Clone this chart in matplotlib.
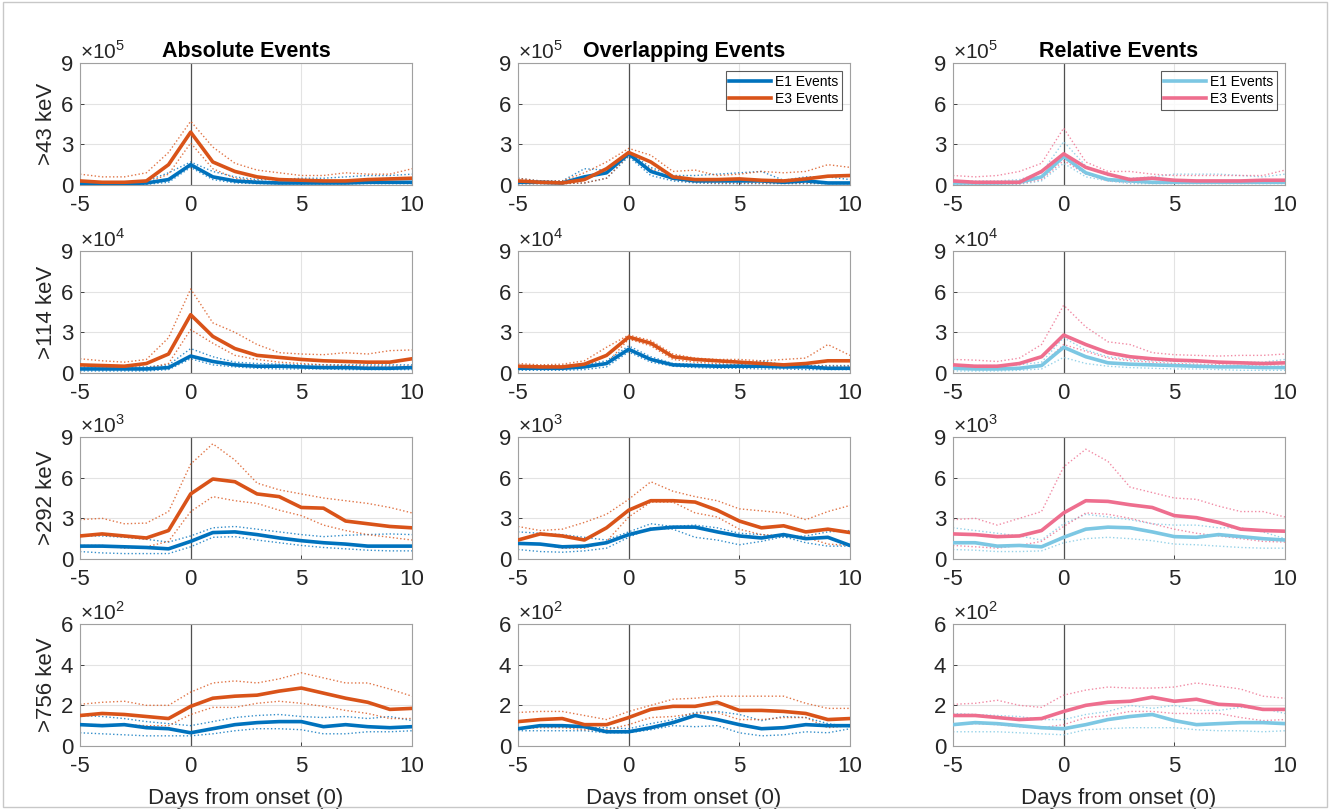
import matplotlib
matplotlib.use("Agg")
import matplotlib.pyplot as plt
from matplotlib.patches import Rectangle

plt.rcParams['font.family'] = ['Liberation Sans', 'DejaVu Sans']
plt.rcParams['mathtext.fontset'] = 'custom'
plt.rcParams['mathtext.rm'] = 'Liberation Sans'
plt.rcParams['axes.unicode_minus'] = False

days = list(range(-5, 11))

# each: [mean, upper, lower], in units of the panel multiplier
# >43 keV (x1e5)
abs43_e1 = [[0.1, 0.1, 0.1, 0.15, 0.4, 1.5, 0.6, 0.3, 0.2, 0.15, 0.15, 0.15, 0.15, 0.2, 0.2, 0.2],
            [0.2, 0.2, 0.2, 0.3, 0.9, 1.7, 1.0, 0.6, 0.4, 0.4, 0.5, 0.5, 0.6, 0.7, 0.7, 0.8],
            [0.05, 0.05, 0.05, 0.05, 0.2, 1.3, 0.4, 0.15, 0.1, 0.08, 0.08, 0.08, 0.08, 0.1, 0.1, 0.1]]
abs43_e3 = [[0.3, 0.2, 0.2, 0.3, 1.5, 3.9, 1.7, 1.0, 0.6, 0.4, 0.35, 0.3, 0.3, 0.4, 0.45, 0.5],
            [0.8, 0.6, 0.6, 0.9, 2.4, 4.7, 2.8, 1.6, 1.1, 0.9, 0.7, 0.7, 0.9, 0.8, 0.8, 1.2],
            [0.1, 0.1, 0.1, 0.15, 0.8, 3.1, 1.2, 0.5, 0.3, 0.2, 0.15, 0.15, 0.15, 0.2, 0.2, 0.25]]
ovl43_e1 = [[0.2, 0.2, 0.15, 0.6, 0.9, 2.3, 1.0, 0.5, 0.3, 0.3, 0.3, 0.3, 0.2, 0.3, 0.15, 0.15],
            [0.5, 0.3, 0.3, 1.2, 1.1, 2.4, 1.3, 0.7, 0.7, 0.8, 0.9, 1.0, 0.35, 0.6, 0.6, 0.4],
            [0.1, 0.1, 0.1, 0.15, 0.5, 2.1, 0.7, 0.3, 0.15, 0.1, 0.1, 0.1, 0.1, 0.1, 0.1, 0.1]]
ovl43_e3 = [[0.3, 0.2, 0.15, 0.4, 1.2, 2.4, 1.7, 0.6, 0.4, 0.4, 0.45, 0.35, 0.3, 0.45, 0.65, 0.7],
            [0.5, 0.3, 0.3, 0.9, 1.7, 2.7, 2.2, 1.0, 1.1, 0.7, 0.8, 1.0, 0.9, 1.0, 1.5, 1.3],
            [0.1, 0.1, 0.1, 0.15, 0.5, 2.2, 1.2, 0.4, 0.2, 0.15, 0.15, 0.15, 0.15, 0.15, 0.15, 0.15]]
rel43_e1 = [[0.15, 0.15, 0.15, 0.2, 0.6, 2.1, 0.9, 0.4, 0.3, 0.2, 0.2, 0.2, 0.2, 0.2, 0.2, 0.2],
            [0.3, 0.3, 0.3, 0.4, 0.9, 3.2, 1.4, 0.7, 0.5, 0.6, 0.8, 0.8, 0.8, 0.7, 0.6, 0.8],
            [0.05, 0.05, 0.05, 0.05, 0.3, 1.6, 0.6, 0.3, 0.1, 0.1, 0.1, 0.1, 0.1, 0.1, 0.1, 0.1]]
rel43_e3 = [[0.3, 0.2, 0.2, 0.2, 1.0, 2.3, 1.3, 0.8, 0.4, 0.5, 0.35, 0.3, 0.3, 0.3, 0.35, 0.35],
            [0.7, 0.6, 0.7, 1.0, 1.6, 4.2, 1.7, 1.0, 1.0, 0.8, 0.7, 0.7, 0.7, 0.7, 0.7, 1.1],
            [0.1, 0.1, 0.1, 0.1, 0.4, 1.8, 0.8, 0.3, 0.2, 0.2, 0.15, 0.15, 0.15, 0.15, 0.15, 0.15]]

# >114 keV (x1e4)
abs114_e1 = [[0.3, 0.3, 0.3, 0.3, 0.4, 1.25, 0.85, 0.6, 0.5, 0.5, 0.45, 0.4, 0.4, 0.35, 0.35, 0.4],
             [0.45, 0.45, 0.45, 0.45, 0.6, 1.8, 1.2, 0.8, 0.7, 0.65, 0.6, 0.6, 0.6, 0.6, 0.6, 0.6],
             [0.15, 0.15, 0.15, 0.15, 0.25, 1.05, 0.6, 0.45, 0.35, 0.3, 0.3, 0.3, 0.25, 0.25, 0.25, 0.25]]
abs114_e3 = [[0.6, 0.55, 0.5, 0.7, 1.4, 4.3, 2.7, 1.8, 1.3, 1.15, 1.0, 0.9, 0.85, 0.8, 0.8, 1.05],
             [1.05, 0.9, 0.8, 1.0, 2.6, 6.2, 3.7, 3.0, 2.1, 1.5, 1.4, 1.35, 1.5, 1.4, 1.65, 1.7],
             [0.3, 0.3, 0.3, 0.35, 0.7, 3.2, 2.2, 1.3, 1.0, 0.8, 0.7, 0.6, 0.55, 0.5, 0.5, 0.5]]
ovl114_e1 = [[0.35, 0.35, 0.35, 0.45, 0.7, 1.75, 1.0, 0.6, 0.55, 0.5, 0.5, 0.5, 0.45, 0.45, 0.35, 0.35],
             [0.55, 0.55, 0.55, 0.6, 0.9, 2.0, 1.2, 0.7, 0.65, 0.6, 0.6, 0.9, 0.6, 0.55, 0.55, 0.55],
             [0.2, 0.2, 0.2, 0.25, 0.45, 1.55, 0.8, 0.5, 0.4, 0.35, 0.35, 0.3, 0.3, 0.25, 0.25, 0.25]]
ovl114_e3 = [[0.5, 0.45, 0.45, 0.65, 1.3, 2.65, 2.2, 1.2, 1.0, 0.9, 0.8, 0.7, 0.6, 0.7, 0.9, 0.9],
             [0.7, 0.6, 0.65, 0.9, 1.9, 2.8, 2.4, 1.4, 1.1, 1.0, 1.0, 0.9, 1.0, 1.1, 2.1, 1.3],
             [0.3, 0.3, 0.3, 0.4, 0.7, 2.5, 2.0, 1.0, 0.8, 0.7, 0.6, 0.55, 0.5, 0.5, 0.5, 0.5]]
rel114_e1 = [[0.35, 0.3, 0.3, 0.35, 0.55, 1.9, 1.2, 0.75, 0.65, 0.6, 0.55, 0.5, 0.45, 0.45, 0.4, 0.4],
             [0.6, 0.55, 0.55, 0.6, 0.8, 2.6, 1.7, 1.2, 1.0, 0.9, 0.85, 0.8, 0.8, 0.8, 0.8, 1.0],
             [0.15, 0.15, 0.15, 0.2, 0.3, 1.15, 0.7, 0.5, 0.4, 0.35, 0.3, 0.3, 0.25, 0.2, 0.2, 0.2]]
rel114_e3 = [[0.6, 0.5, 0.5, 0.7, 1.2, 2.8, 2.1, 1.5, 1.2, 1.05, 0.95, 0.9, 0.8, 0.75, 0.7, 0.75],
             [1.0, 0.95, 0.85, 1.1, 2.1, 5.0, 3.4, 2.3, 2.1, 1.5, 1.35, 1.3, 1.25, 1.3, 1.3, 1.4],
             [0.3, 0.3, 0.3, 0.35, 0.6, 2.1, 1.6, 1.1, 0.9, 0.8, 0.7, 0.65, 0.6, 0.55, 0.5, 0.5]]

# >292 keV (x1e3)
abs292_e1 = [[0.95, 0.95, 0.9, 0.85, 0.75, 1.3, 1.95, 2.0, 1.8, 1.55, 1.35, 1.2, 1.1, 0.95, 0.95, 0.95],
             [1.7, 1.7, 1.6, 1.45, 1.25, 1.7, 2.3, 2.4, 2.2, 2.0, 1.8, 1.65, 1.75, 1.8, 1.85, 1.8],
             [0.55, 0.45, 0.4, 0.4, 0.4, 0.9, 1.6, 1.65, 1.4, 1.2, 1.0, 0.85, 0.75, 0.65, 0.6, 0.6]]
abs292_e3 = [[1.7, 1.85, 1.7, 1.55, 2.1, 4.8, 5.9, 5.7, 4.8, 4.6, 3.8, 3.75, 2.8, 2.6, 2.4, 2.3],
             [2.9, 3.0, 2.6, 2.65, 3.5, 7.0, 8.5, 7.3, 5.6, 5.1, 4.8, 4.5, 4.3, 4.1, 3.8, 3.4],
             [1.0, 1.0, 0.8, 0.9, 1.3, 3.5, 4.6, 4.3, 4.1, 3.6, 3.2, 2.5, 2.1, 1.8, 1.6, 1.4]]
ovl292_e1 = [[1.15, 1.1, 0.9, 0.95, 1.2, 1.8, 2.2, 2.35, 2.35, 2.0, 1.7, 1.55, 1.8, 1.5, 1.6, 1.0],
             [2.0, 1.9, 1.8, 1.6, 1.4, 2.0, 2.6, 2.4, 2.5, 2.3, 1.9, 1.8, 1.6, 1.7, 2.0, 2.1],
             [0.7, 0.55, 0.5, 0.6, 0.8, 1.6, 2.3, 2.2, 1.6, 1.4, 1.05, 1.3, 1.65, 1.2, 0.95, 0.95]]
ovl292_e3 = [[1.4, 1.85, 1.7, 1.4, 2.3, 3.6, 4.3, 4.3, 4.2, 3.6, 2.8, 2.3, 2.45, 2.0, 2.2, 1.95],
             [2.4, 2.1, 2.2, 2.7, 3.3, 4.4, 5.7, 5.0, 4.6, 4.3, 3.7, 3.55, 3.4, 2.9, 3.5, 3.95],
             [1.2, 1.1, 0.8, 0.8, 1.3, 3.1, 4.2, 4.2, 3.4, 3.1, 2.2, 1.8, 1.7, 1.6, 1.1, 1.0]]
rel292_e1 = [[1.2, 1.2, 0.95, 1.0, 0.9, 1.6, 2.2, 2.35, 2.3, 2.0, 1.65, 1.6, 1.8, 1.65, 1.5, 1.4],
             [2.3, 2.1, 1.9, 1.7, 1.4, 2.6, 3.3, 3.1, 2.9, 2.6, 2.5, 2.5, 2.3, 2.3, 2.0, 1.5],
             [0.7, 0.65, 0.55, 0.55, 0.6, 1.2, 1.5, 1.6, 1.5, 1.35, 1.1, 1.05, 0.95, 0.85, 0.8, 0.8]]
rel292_e3 = [[1.85, 1.8, 1.65, 1.7, 2.1, 3.4, 4.3, 4.25, 4.0, 3.8, 3.2, 3.05, 2.7, 2.2, 2.1, 2.05],
             [2.9, 3.0, 2.5, 3.0, 3.5, 6.8, 8.1, 7.2, 5.3, 4.9, 4.5, 4.4, 3.9, 3.5, 3.5, 3.1],
             [1.0, 0.9, 0.8, 1.0, 1.3, 2.4, 3.4, 3.3, 3.0, 2.6, 2.2, 1.9, 1.7, 1.5, 1.3, 1.25]]

# >756 keV (x1e2)
abs756_e1 = [[1.05, 1.0, 1.05, 0.9, 0.85, 0.65, 0.85, 1.05, 1.15, 1.2, 1.2, 0.95, 1.05, 0.95, 0.9, 0.95],
             [1.5, 1.45, 1.35, 1.2, 1.1, 1.0, 1.2, 1.4, 1.5, 1.55, 1.45, 1.4, 1.45, 1.35, 1.45, 1.25],
             [0.65, 0.6, 0.55, 0.5, 0.5, 0.5, 0.6, 0.75, 0.85, 0.85, 0.8, 0.6, 0.6, 0.7, 0.7, 0.75]]
abs756_e3 = [[1.5, 1.6, 1.55, 1.45, 1.35, 1.95, 2.35, 2.45, 2.5, 2.7, 2.85, 2.6, 2.35, 2.15, 1.8, 1.85],
             [2.05, 2.15, 2.2, 2.0, 2.0, 2.65, 3.1, 3.2, 3.1, 3.3, 3.6, 3.35, 3.1, 3.1, 2.8, 2.45],
             [1.05, 1.05, 1.05, 1.0, 1.0, 1.55, 1.9, 1.9, 2.1, 2.2, 2.1, 1.95, 1.75, 1.6, 1.35, 1.35]]
ovl756_e1 = [[0.85, 1.0, 1.0, 0.95, 0.7, 0.7, 0.9, 1.15, 1.5, 1.3, 1.05, 0.85, 0.9, 1.05, 1.0, 1.0],
             [0.85, 0.95, 0.95, 0.9, 0.9, 0.85, 1.1, 1.3, 1.65, 1.7, 1.55, 1.25, 1.45, 1.4, 1.1, 0.95],
             [0.75, 0.75, 0.75, 0.75, 0.65, 0.65, 0.8, 1.0, 0.95, 1.0, 0.65, 0.5, 0.55, 0.7, 0.65, 0.85]]
ovl756_e3 = [[1.2, 1.3, 1.35, 1.05, 1.05, 1.4, 1.8, 1.95, 1.95, 2.15, 1.75, 1.75, 1.7, 1.6, 1.3, 1.35],
             [1.65, 1.7, 1.7, 1.5, 1.3, 1.7, 2.0, 2.3, 2.35, 2.45, 2.45, 2.45, 2.45, 2.1, 1.85, 1.85],
             [0.85, 0.9, 0.9, 0.8, 0.8, 1.05, 1.4, 1.45, 1.6, 1.65, 1.3, 1.3, 1.4, 1.4, 0.9, 1.0]]
rel756_e1 = [[1.05, 1.15, 1.1, 1.0, 0.9, 0.85, 1.05, 1.3, 1.45, 1.55, 1.25, 1.05, 1.1, 1.15, 1.15, 1.1],
             [1.6, 1.55, 1.5, 1.45, 1.3, 1.3, 1.55, 1.7, 2.0, 1.85, 2.0, 1.75, 1.75, 1.9, 1.85, 1.6],
             [0.7, 0.7, 0.7, 0.65, 0.6, 0.55, 0.8, 0.85, 0.9, 0.9, 0.9, 0.8, 0.75, 0.75, 0.7, 0.75]]
rel756_e3 = [[1.5, 1.5, 1.4, 1.3, 1.35, 1.7, 2.0, 2.15, 2.2, 2.4, 2.2, 2.3, 2.05, 2.0, 1.8, 1.8],
             [2.05, 2.1, 2.25, 2.0, 1.9, 2.5, 2.75, 2.9, 2.85, 2.85, 2.9, 3.1, 2.95, 2.8, 2.45, 2.35],
             [1.05, 1.1, 1.05, 0.95, 0.9, 1.05, 1.4, 1.5, 1.7, 1.7, 1.6, 1.6, 1.6, 1.4, 1.25, 1.3]]

col_titles = ["Absolute Events", "Overlapping Events", "Relative Events"]
row_labels = [">43 keV", ">114 keV", ">292 keV", ">756 keV"]
row_exp = [5, 4, 3, 2]
row_yticks = [[0, 3, 6, 9], [0, 3, 6, 9], [0, 3, 6, 9], [0, 2, 4, 6]]

panels = [[abs43_e1, abs43_e3, ovl43_e1, ovl43_e3, rel43_e1, rel43_e3],
          [abs114_e1, abs114_e3, ovl114_e1, ovl114_e3, rel114_e1, rel114_e3],
          [abs292_e1, abs292_e3, ovl292_e1, ovl292_e3, rel292_e1, rel292_e3],
          [abs756_e1, abs756_e3, ovl756_e1, ovl756_e3, rel756_e1, rel756_e3]]

dark_e1, dark_e3 = "#0072BD", "#D95319"
light_e1, light_e3 = "#7CC7E3", "#EE6E8E"
col_colors = [(dark_e1, dark_e3), (dark_e1, dark_e3), (light_e1, light_e3)]

W, H = 1330, 809
fig = plt.figure(figsize=(W / 100, H / 100), dpi=100)
fig.patches.append(Rectangle((0.002, 0.002), 0.996, 0.996, transform=fig.transFigure,
                             fill=False, edgecolor="#c8c8c8", lw=1.0))

col_left = [80, 518, 953]
col_w = 332
row_top = [63, 251, 437, 624]
row_h = 122

for r in range(4):
    for c in range(3):
        ax = fig.add_axes([col_left[c] / W, (H - row_top[r] - row_h) / H, col_w / W, row_h / H])
        e1, e3 = panels[r][2 * c], panels[r][2 * c + 1]
        ce1, ce3 = col_colors[c]
        ax.axvline(0, color="#505050", lw=0.9, zorder=1)
        for data, col in ((e1, ce1), (e3, ce3)):
            ax.plot(days, data[1], ':', color=col, lw=1.0, alpha=0.8, zorder=2)
            ax.plot(days, data[2], ':', color=col, lw=1.0, alpha=0.8, zorder=2)
        l1, = ax.plot(days, e1[0], '-', color=ce1, lw=2.6, zorder=3)
        l3, = ax.plot(days, e3[0], '-', color=ce3, lw=2.6, zorder=3)
        ax.set_xlim(-5, 10)
        ax.set_ylim(row_yticks[r][0], row_yticks[r][-1])
        ax.set_xticks([-5, 0, 5, 10])
        ax.set_yticks(row_yticks[r])
        ax.grid(True, color="#e3e3e3", lw=0.8)
        ax.set_axisbelow(True)
        ax.tick_params(direction='in', length=3, labelsize=16, colors="#262626", width=0.6)
        ax.tick_params(axis='x', pad=7)
        ax.tick_params(axis='y', pad=5)
        for s in ax.spines.values():
            s.set_color("#a0a0a0")
            s.set_linewidth(0.8)
        ax.text(0.0, 1.005, r"$\times10^{%d}$" % row_exp[r], transform=ax.transAxes,
                fontsize=15, color="#262626", ha='left', va='bottom')
        if r == 0:
            ax.set_title(col_titles[c], fontsize=15.5, fontweight='bold', pad=4)
            if c > 0:
                leg = ax.legend([l1, l3], ["E1 Events", "E3 Events"], loc='upper right',
                                fontsize=10, fancybox=False, edgecolor='#333333',
                                handlelength=3.0, borderpad=0.25, labelspacing=0.25,
                                handletextpad=0.3, borderaxespad=0.6)
                leg.get_frame().set_linewidth(0.8)
        if c == 0:
            ax.set_ylabel(row_labels[r], fontsize=16, color="#262626", labelpad=3)
        if r == 3:
            ax.set_xlabel("Days from onset (0)", fontsize=16, color="#262626", labelpad=8)

fig.savefig("out.png", dpi=100)
